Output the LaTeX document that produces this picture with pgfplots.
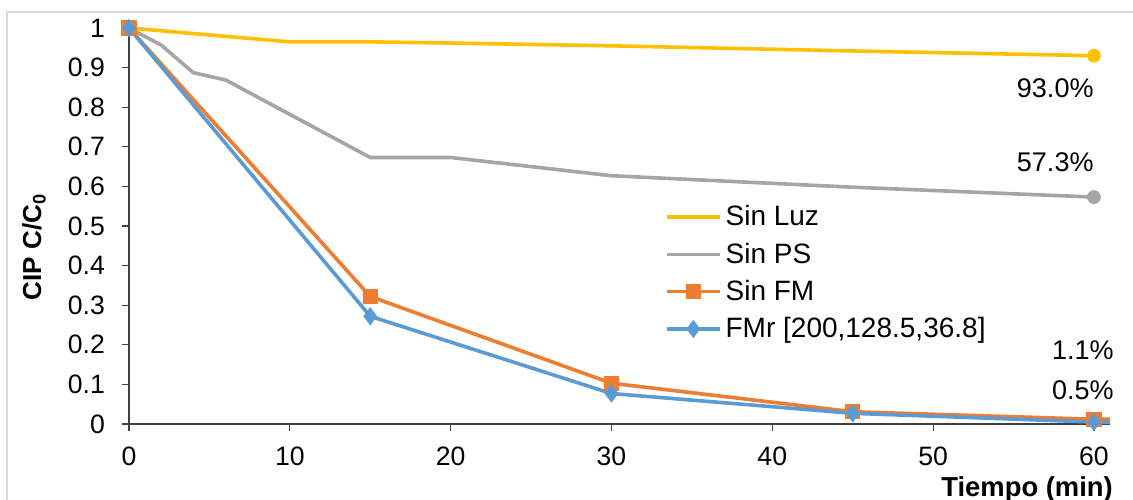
\documentclass[border=0pt]{standalone}
\usepackage{pgfplots}
\pgfplotsset{compat=1.18}
\usepackage{fontspec}
\setmainfont{Liberation Sans}
\definecolor{cyel}{HTML}{FFC000}
\definecolor{cgray}{HTML}{A5A5A5}
\definecolor{corange}{HTML}{ED7D31}
\definecolor{cblue}{HTML}{5B9BD5}
\begin{document}
\begin{tikzpicture}
\path[use as bounding box] (-64.5pt,-37.5pt) rectangle (502pt,212pt);
\draw[black!15, line width=1pt] (-61pt,-60pt) -- (-61pt,206pt) -- (520pt,206pt);
\begin{axis}[
  scale only axis, width=490.5pt, height=198pt,
  xmin=0, xmax=61, ymin=0, ymax=1,
  axis x line*=bottom, axis y line*=left,
  axis line style={black!75, line width=0.6pt, -},
  xtick={0,10,20,30,40,50,60},
  ytick={0,0.1,0.2,0.3,0.4,0.5,0.6,0.7,0.8,0.9,1},
  tick align=outside, major tick length=3.5pt,
  tick style={black!75, line width=0.6pt},
  /pgf/number format/assume math mode=true,
  /pgf/number format/.cd, fixed, precision=1, /pgfplots/.cd,
  ticklabel style={font=\fontsize{13.3}{15}\selectfont, text=black},
  xticklabel style={yshift=-4.5pt},
  yticklabel style={xshift=-5pt},
  legend style={draw=none, fill=none, at={(rel axis cs:0.546,0.563)}, anchor=north west,
    font=\fontsize{14}{16}\selectfont, row sep=3pt, inner sep=0pt},
  legend cell align=left,
  legend image code/.code={\draw[mark=none] (0pt,0pt)--(26.5pt,0pt); \draw plot coordinates {(13.25pt,0pt)};},
  clip=false,
]
\addplot[cyel, line width=1.8pt, mark=*, mark size=3.2pt, mark indices={7}, mark options={fill=cyel, draw=cyel, line width=0.5pt}]
  coordinates {(0,1)(10,0.965)(15,0.965)(20,0.962)(30,0.955)(45,0.942)(60,0.93)};
\addlegendentry{Sin Luz}
\addplot[cgray, line width=1.8pt, mark=*, mark size=3.2pt, mark indices={9}, mark options={fill=cgray, draw=cgray, line width=0.5pt}]
  coordinates {(0,1)(2,0.957)(4,0.887)(6,0.869)(15,0.673)(20,0.673)(30,0.627)(45,0.598)(60,0.573)};
\addlegendentry{Sin PS}
\addplot[corange, line width=1.8pt, mark=square*, mark size=3.6pt, mark indices={1,2,3,4,5}, mark options={fill=corange, draw=corange, line width=0.5pt}]
  coordinates {(0,1)(15,0.322)(30,0.103)(45,0.031)(60,0.012)(61,0.012)};
\addlegendentry{Sin FM}
\addplot[cblue, line width=1.8pt, mark=diamond*, mark size=4.2pt, mark indices={1,2,3,4,5}, mark options={fill=cblue, draw=cblue, line width=0.5pt}]
  coordinates {(0,1)(15,0.272)(30,0.077)(45,0.027)(60,0.005)(61,0.004)};
\addlegendentry{FMr [200,128.5,36.8]}
\node[anchor=east, inner sep=0pt, font=\fontsize{13.5}{15}\selectfont] at (axis cs:60,0.848) {93.0\%};
\node[anchor=east, inner sep=0pt, font=\fontsize{13.5}{15}\selectfont] at (axis cs:60,0.66) {57.3\%};
\node[anchor=east, inner sep=0pt, font=\fontsize{13.5}{15}\selectfont] at (axis cs:61.25,0.187) {1.1\%};
\node[anchor=east, inner sep=0pt, font=\fontsize{13.5}{15}\selectfont] at (axis cs:61.25,0.086) {0.5\%};
\node[anchor=base east, inner sep=0pt, font=\bfseries\fontsize{13.7}{15}\selectfont] at ([yshift=-36pt]axis cs:61.2,0) {Tiempo (min)};
\node[rotate=90, inner sep=0pt, font=\bfseries\fontsize{13}{15}\selectfont] at ([xshift=-47.5pt]rel axis cs:0,0.447) {CIP C/C\textsubscript{0}};
\end{axis}
\end{tikzpicture}
\end{document}
